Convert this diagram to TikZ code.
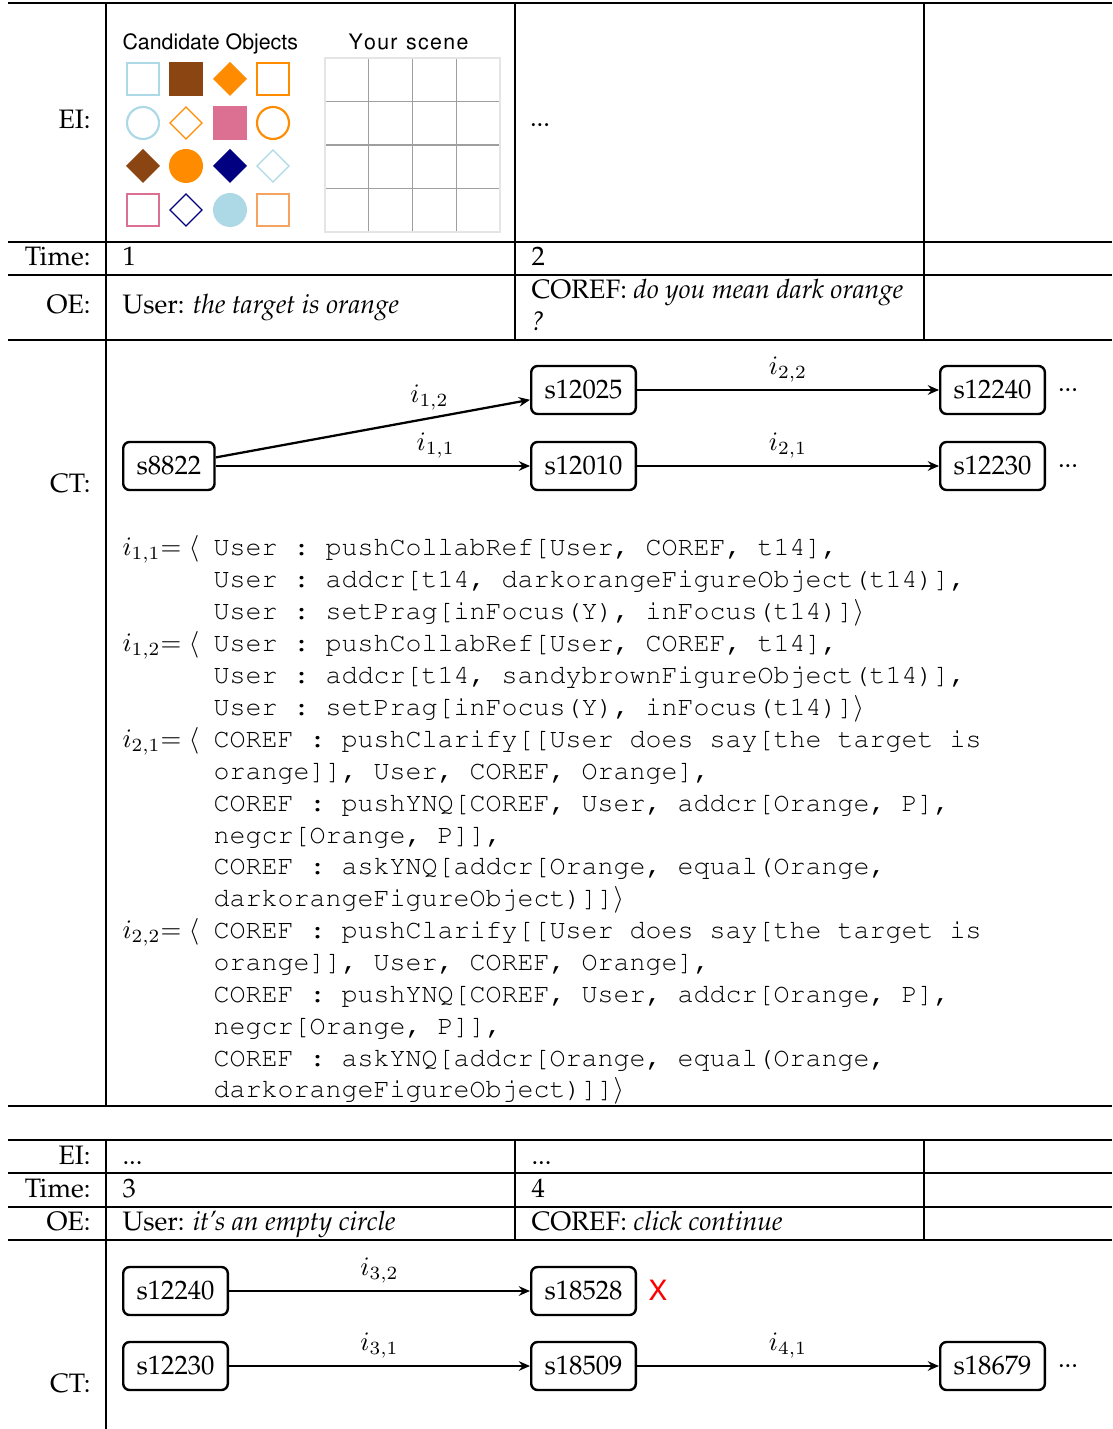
\documentclass[tikz,border=0pt]{standalone}
\usepackage[T1]{fontenc}
\usepackage{palatino}
\usetikzlibrary{arrows.meta}

\definecolor{lightblue}{HTML}{ADD8E6}
\definecolor{saddlebrown}{HTML}{8B4513}
\definecolor{darkorange}{HTML}{FF8C00}
\definecolor{palevioletred}{HTML}{DB7093}
\definecolor{navyblue}{HTML}{000080}
\definecolor{sandybrown}{HTML}{F4A460}

% letter-spaced panel caption
\newcommand{\spacedword}[1]{\def\lsgap{\kern0.5pt}\lsloop#1\relax}
\def\lsloop#1{\ifx#1\relax\else#1\lsgap\expandafter\lsloop\fi}

\tikzset{
  rule/.style={line width=0.8pt},
  rowlab/.style={anchor=base east, inner sep=0pt},
  cell/.style={anchor=base west, inner sep=0pt},
  code/.style={anchor=base west, inner sep=0pt, font=\ttfamily\frenchspacing},
  state/.style={draw, line width=0.9pt, rounded corners=2.4pt, anchor=west,
    minimum height=18pt, inner xsep=5pt, inner ysep=3pt},
  arr/.style={line width=0.85pt, -{Stealth[length=4.2pt, width=3.6pt, inset=1.4pt]}},
  lab/.style={above, inner sep=2.5pt},
  sqline/.style={line width=0.8pt},
  thinline/.style={line width=0.5pt},
  panel/.style={anchor=base west, inner sep=0pt, font=\sffamily\fontsize{8}{9.6}\selectfont},
  etc/.style={inner sep=0pt}
}

\begin{document}
\begin{tikzpicture}[x=0.375pt, y=-0.375pt]
\useasboundingbox (0,0) rectangle (1112,1429);

% ---------- first table: rules ----------
\foreach \yy in {3,242,275,340,1106}
  \draw[rule] (8,\yy) -- (1112,\yy);
\draw[rule] (106,3) -- (106,1106);
\draw[rule] (515,3) -- (515,340);
\draw[rule] (924,3) -- (924,340);

% ---------- row labels ----------
\node[rowlab] (eiA) at (91,129) {EI:};
\node[rowlab] (timeA) at (91,266) {Time:};
\node[rowlab] (oeA) at (91,314) {OE:};
\node[rowlab] (ctA) at (91,492) {CT:};

% ---------- object panel ----------
\node[panel] (candTitle) at (122,50) {Candidate Objects};
\node[panel] (sceneTitle) at (348,50) {\spacedword{Your}\kern0.5pt\ \spacedword{scene}};

% row 1
\draw[lightblue, sqline] (127,63) rectangle (159,95);
\fill[saddlebrown] (169,62) rectangle (203,96);
\fill[darkorange] (230,62) -- (247,79) -- (230,96) -- (213,79) -- cycle;
\draw[darkorange, sqline] (257,63) rectangle (289,95);
% row 2
\draw[lightblue, sqline] (143,123) circle[radius=16];
\draw[darkorange, thinline] (186,107) -- (202,123) -- (186,139) -- (170,123) -- cycle;
\fill[palevioletred] (213,106) rectangle (247,140);
\draw[darkorange, sqline] (273,123) circle[radius=16];
% row 3
\fill[saddlebrown] (143,149) -- (160,166) -- (143,183) -- (126,166) -- cycle;
\fill[darkorange] (186,166) circle[radius=17];
\fill[navyblue] (230,149) -- (247,166) -- (230,183) -- (213,166) -- cycle;
\draw[lightblue, thinline] (273,150) -- (289,166) -- (273,182) -- (257,166) -- cycle;
% row 4
\draw[palevioletred, sqline] (127,194) rectangle (159,226);
\draw[navyblue, thinline] (186,194) -- (202,210) -- (186,226) -- (170,210) -- cycle;
\fill[lightblue] (230,210) circle[radius=17];
\draw[sandybrown, sqline] (257,194) rectangle (289,226);

% scene grid
\foreach \gx in {368.75,412.5,456.25}
  \draw[gray!75, line width=0.4pt] (\gx,58) -- (\gx,232);
\foreach \gy in {101.5,145,188.5}
  \draw[gray!75, line width=0.4pt] (325,\gy) -- (500,\gy);
\draw[gray!20, line width=0.4pt] (325,58) rectangle (500,232);

\node[etc] (eiDots) at (540,125) {...};

% ---------- time / utterance rows ----------
\node[cell] (t1) at (122,266) {1};
\node[cell] (t2) at (531,266) {2};
\node[cell] (oe1) at (122,314) {User: \textit{the target is orange}};
\node[cell] (oe2) at (531,299) {COREF: \textit{do you mean dark orange}};
\node[cell] (oe2b) at (531,331) {\textit{?}};

% ---------- context graph ----------
\node[state] (s8822) at (122,466) {s8822};
\node[state] (s12025) at (530,390) {s12025};
\node[state] (s12010) at (530,466) {s12010};
\node[state] (s12240) at (939,390) {s12240};
\node[state] (s12230) at (939,466) {s12230};
\node[etc] (dotsA) at (1068,390) {...};
\node[etc] (dotsB) at (1068,466) {...};

\draw[arr] (s8822) -- node[lab, pos=0.68] {$i_{1,2}$} (s12025);
\draw[arr] (s8822) -- node[lab, pos=0.7] {$i_{1,1}$} (s12010);
\draw[arr] (s12025) -- node[lab] {$i_{2,2}$} (s12240);
\draw[arr] (s12010) -- node[lab] {$i_{2,1}$} (s12230);

% ---------- interpretations ----------
\node[cell] (p11) at (122,555) {$i_{1,1}{=}\;\langle$};
\node[code] (c1) at (213,555) {User : pushCollabRef[User, COREF, t14],};
\node[code] (c2) at (213,587) {User : addcr[t14, darkorangeFigureObject(t14)],};
\node[code] (c3) at (213,619) {User : setPrag[inFocus(Y), inFocus(t14)]$\rangle$};
\node[cell] (p12) at (122,651) {$i_{1,2}{=}\;\langle$};
\node[code] (c4) at (213,651) {User : pushCollabRef[User, COREF, t14],};
\node[code] (c5) at (213,683) {User : addcr[t14, sandybrownFigureObject(t14)],};
\node[code] (c6) at (213,715) {User : setPrag[inFocus(Y), inFocus(t14)]$\rangle$};
\node[cell] (p21) at (122,747) {$i_{2,1}{=}\;\langle$};
\node[code] (c7) at (213,747) {COREF : pushClarify[[User does say[the target is};
\node[code] (c8) at (213,779) {orange]], User, COREF, Orange],};
\node[code] (c9) at (213,811) {COREF : pushYNQ[COREF, User, addcr[Orange, P],};
\node[code] (c10) at (213,843) {negcr[Orange, P]],};
\node[code] (c11) at (213,874) {COREF : askYNQ[addcr[Orange, equal(Orange,};
\node[code] (c12) at (213,906) {darkorangeFigureObject)]]$\rangle$};
\node[cell] (p22) at (122,938) {$i_{2,2}{=}\;\langle$};
\node[code] (c13) at (213,938) {COREF : pushClarify[[User does say[the target is};
\node[code] (c14) at (213,970) {orange]], User, COREF, Orange],};
\node[code] (c15) at (213,1002) {COREF : pushYNQ[COREF, User, addcr[Orange, P],};
\node[code] (c16) at (213,1034) {negcr[Orange, P]],};
\node[code] (c17) at (213,1066) {COREF : askYNQ[addcr[Orange, equal(Orange,};
\node[code] (c18) at (213,1097) {darkorangeFigureObject)]]$\rangle$};

% ---------- second table: rules ----------
\draw[rule] (8,1140) -- (1112,1140);
\draw[line width=1.1pt] (8,1173) -- (1112,1173);
\draw[rule] (8,1207) -- (1112,1207);
\draw[rule] (8,1240) -- (1112,1240);
\draw[rule] (106,1140) -- (106,1429);
\draw[rule] (515,1140) -- (515,1240);
\draw[rule] (924,1140) -- (924,1240);

\node[rowlab] (eiB) at (91,1164) {EI:};
\node[rowlab] (timeB) at (91,1197) {Time:};
\node[rowlab] (oeB) at (91,1230) {OE:};
\node[rowlab] (ctB) at (91,1392) {CT:};

\node[cell] (ei3) at (122,1164) {...};
\node[cell] (ei4) at (531,1164) {...};
\node[cell] (t3) at (122,1197) {3};
\node[cell] (t4) at (531,1197) {4};
\node[cell] (oe3) at (122,1230) {User: \textit{it's an empty circle}};
\node[cell] (oe4) at (531,1230) {COREF: \textit{click continue}};

\node[state] (s12240b) at (122,1291) {s12240};
\node[state] (s18528) at (530,1291) {s18528};
\node[state] (s12230b) at (122,1366) {s12230};
\node[state] (s18509) at (530,1366) {s18509};
\node[state] (s18679) at (939,1366) {s18679};
\node[inner sep=0pt, text=red, font=\sffamily\fontsize{10.5}{12}\selectfont] (fail) at (658,1291) {X};
\node[etc] (dotsC) at (1068,1366) {...};

\draw[arr] (s12240b) -- node[lab] {$i_{3,2}$} (s18528);
\draw[arr] (s12230b) -- node[lab] {$i_{3,1}$} (s18509);
\draw[arr] (s18509) -- node[lab] {$i_{4,1}$} (s18679);
\end{tikzpicture}
\end{document}
